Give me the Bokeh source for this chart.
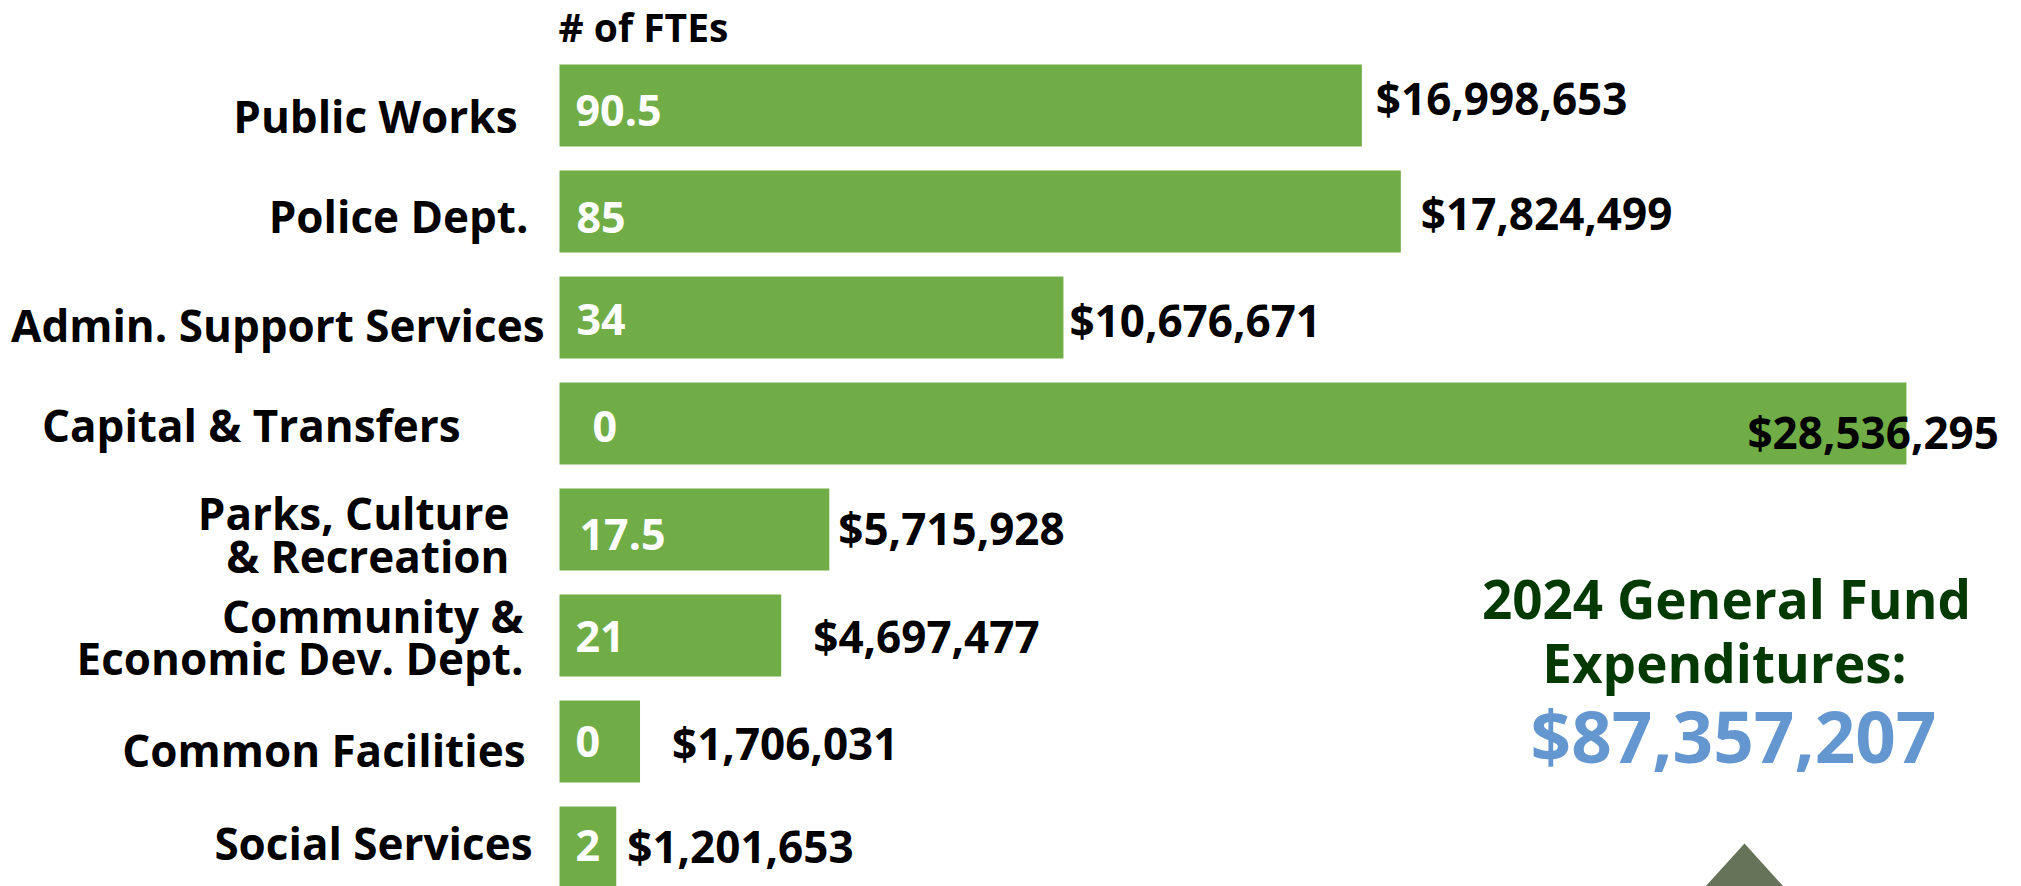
from bokeh.plotting import figure
from bokeh.models import ColumnDataSource, Range1d, Label
from bokeh.core.properties import value
from bokeh.embed import file_html
from bokeh.resources import INLINE

# ---------------- data ----------------
departments = ["Public Works", "Police Dept.", "Admin. Support Services", "Capital & Transfers",
               "Parks, Culture\n& Recreation", "Community &\nEconomic Dev. Dept.",
               "Common Facilities", "Social Services"]
expenditures = [16998653, 17824499, 10676671, 28536295, 5715928, 4697477, 1706031, 1201653]
ftes = ["90.5", "85", "34", "0", "17.5", "21", "0", "2"]
year = 2024

# ---------------- layout / style (screen px tweaks) ----------------
W, H = 2021, 886
X0_PX = 559            # canvas px where x = 0
PX_PER_DOLLAR = 47.2e-6
ROW0_PX, ROW_PITCH = 105, 106
BAR_H = 82 / 106

cat_dx = [-42, -31, -15, -99, -50, -36, -34, -27]
cat_dy = [10, 4, 7.5, 1.5, 5, 1.5, 8.5, -4.5]
val_dx = [14, 20, 6, -159, 9, 32, 32, 11]
val_dy = [-7.5, 1.5, 2.5, 8.5, -1.5, 0, 1.5, -1.5]
fte_dx = [16, 17, 17, 33, 20, 16, 16, 16]
fte_dy = [5, 5.5, 1.5, 2.5, 4.5, 0.5, -0.5, -2]

FONT_NAME = "Open Sans"
FONT = value(FONT_NAME)
GREEN = "#70AD47"
DARK = "#033A03"
BLUE = "#6497CF"

x_start = -X0_PX / PX_PER_DOLLAR
x_end = (W - X0_PX) / PX_PER_DOLLAR
y_top = -ROW0_PX / ROW_PITCH
y_bot = (H - ROW0_PX) / ROW_PITCH


def px_to_x(px):
    return (px - X0_PX) / PX_PER_DOLLAR


def px_to_y(py):
    return (py - ROW0_PX) / ROW_PITCH


rows = list(range(len(departments)))
src = ColumnDataSource(dict(
    y=rows, dept=departments, exp=expenditures, zero=[0] * len(rows),
    fte=ftes, label=["${:,}".format(v) for v in expenditures],
    cat_dx=cat_dx, cat_dy=cat_dy, val_dx=val_dx, val_dy=val_dy,
    fte_dx=fte_dx, fte_dy=fte_dy,
))

p = figure(width=W, height=H, output_backend="svg", toolbar_location=None,
           x_range=Range1d(x_start, x_end), y_range=Range1d(y_bot, y_top),
           min_border=0, outline_line_color=None)
p.axis.visible = False
p.grid.visible = False
p.background_fill_color = "white"
p.border_fill_color = "white"

p.hbar(y="y", left="zero", right="exp", height=BAR_H, source=src,
       fill_color=GREEN, line_color=None)

# category labels
p.text(x="zero", y="y", text="dept", source=src, x_offset="cat_dx", y_offset="cat_dy",
       text_font=FONT, text_font_style="bold", text_font_size="44px",
       text_align="right", text_baseline="middle", text_color="black",
       text_line_height=0.71)

# value labels
p.text(x="exp", y="y", text="label", source=src, x_offset="val_dx", y_offset="val_dy",
       text_font=FONT, text_font_style="bold", text_font_size="44px",
       text_align="left", text_baseline="middle", text_color="black")

# FTE labels inside bars
p.text(x="zero", y="y", text="fte", source=src, x_offset="fte_dx", y_offset="fte_dy",
       text_font=FONT, text_font_style="bold", text_font_size="43px",
       text_align="left", text_baseline="middle", text_color="white")

# column header
p.add_layout(Label(x=0, y=px_to_y(26), text="# of FTEs", x_offset=-1,
                   text_font=FONT_NAME, text_font_style="bold", text_font_size="39px",
                   text_baseline="middle", text_align="left", text_color="black"))

# summary block
total = sum(expenditures)
for txt, cx, mid, size, col in [(f"{year} General Fund", 1726, 598, "53px", DARK),
                                ("Expenditures:", 1724, 662, "53px", DARK),
                                ("${:,}".format(total), 1733, 735, "71px", BLUE)]:
    p.add_layout(Label(x=cx, y=H - mid, x_units="screen", y_units="screen", text=txt,
                       text_font=FONT_NAME, text_font_style="bold", text_font_size=size,
                       text_align="center", text_baseline="middle", text_color=col))

# decorative triangle at the bottom
tri_x = [px_to_x(1744), px_to_x(1744 - 39 * 1.3), px_to_x(1744 + 39 * 1.3)]
tri_y = [px_to_y(843), px_to_y(843 + 43 * 1.3), px_to_y(843 + 43 * 1.3)]
p.patch(tri_x, tri_y, fill_color="#667359", line_color=None)

open("out.html", "w").write(file_html(p, INLINE))
